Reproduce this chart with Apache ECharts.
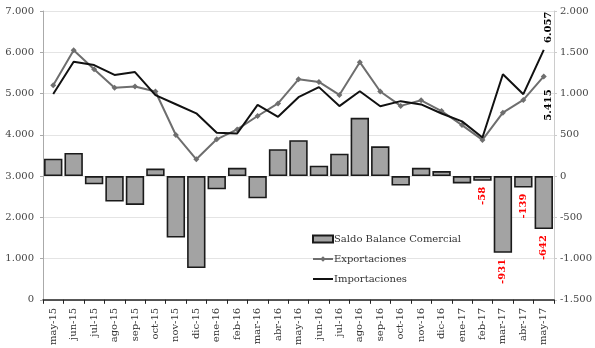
<!DOCTYPE html>
<html>
<head>
<meta charset="utf-8">
<script src="https://cdn.jsdelivr.net/npm/echarts@6/dist/echarts.min.js"></script>
<style>
  html, body { margin: 0; padding: 0; background: #fff; }
  #chart { width: 595px; height: 348px; }
</style>
</head>
<body>
<div id="chart"></div>
<script>
// Monthly trade figures (millions), May 2015 – May 2017
const months = ['may-15','jun-15','jul-15','ago-15','sep-15','oct-15','nov-15','dic-15',
  'ene-16','feb-16','mar-16','abr-16','may-16','jun-16','jul-16','ago-16','sep-16','oct-16',
  'nov-16','dic-16','ene-17','feb-17','mar-17','abr-17','may-17'];

const exportaciones = [5200, 6050, 5590, 5140, 5170, 5050, 3995, 3405, 3890, 4130, 4455, 4760,
  5345, 5280, 4965, 5760, 5050, 4700, 4835, 4575, 4235, 3875, 4535, 4845, 5415];

const importaciones = [4990, 5770, 5690, 5450, 5520, 4960, 4740, 4520, 4050, 4030, 4725, 4435,
  4910, 5155, 4695, 5055, 4690, 4815, 4735, 4515, 4325, 3933, 5466, 4984, 6057];

const saldo = [210, 280, -100, -310, -350, 90, -745, -1115, -160, 100, -270, 325,
  435, 125, 270, 705, 360, -115, 100, 60, -90, -58, -931, -139, -642];

// Months whose trade balance carries a red value label
const saldoLabelled = ['feb-17', 'mar-17', 'abr-17', 'may-17'];

const leftTicks = { min: 0, max: 7000, step: 1000 };
const rightTicks = { min: -1500, max: 2000, step: 500 };

const FONT = 'DejaVu Serif';

function fmt(v) {
  const s = Math.abs(Math.round(v)).toString().replace(/\B(?=(\d{3})+(?!\d))/g, '.');
  return (v < 0 ? '-' : '') + s;
}

const last = months.length - 1;

// Vertical value labels read bottom-to-top; their offset is given in the
// rotated frame, so [0, 5] nudges them 5px to the right on screen.
const saldoData = saldo.map((v, i) => {
  if (saldoLabelled.indexOf(months[i]) < 0) return v;
  return {
    value: v,
    label: {
      show: true, position: 'outside', distance: 6, rotate: 90,
      align: 'right', verticalAlign: 'middle',
      color: '#ff0000', fontWeight: 'bold', fontSize: 10, fontFamily: FONT,
      formatter: p => fmt(p.value)
    }
  };
});

const expData = exportaciones.map((v, i) => i !== last ? v : {
  value: v,
  label: {
    show: true, position: 'bottom', distance: 10, rotate: 90,
    align: 'right', verticalAlign: 'middle', offset: [0, 5],
    color: '#000', fontWeight: 'bold', fontSize: 10, fontFamily: FONT,
    formatter: p => fmt(p.value)
  }
});

const chart = echarts.init(document.getElementById('chart'), null, { renderer: 'canvas' });

chart.setOption({
  animation: false,
  backgroundColor: '#fff',
  textStyle: { fontFamily: FONT },
  grid: { left: 43, right: 38, top: 11, bottom: 48, containLabel: false },
  legend: {
    orient: 'vertical', left: 307, top: 229,
    itemWidth: 20, itemHeight: 7, itemGap: 10,
    textStyle: { fontFamily: FONT, fontSize: 10, color: '#333', padding: [0, 0, 0, -4] },
    data: [
      { name: 'Saldo Balance Comercial', icon: 'rect' },
      'Exportaciones',
      // plain line key (the extra move-to points keep the full 20x7 box)
      { name: 'Importaciones', icon: 'path://M0,0M20,7M0,2.5L20,2.5L20,4.5L0,4.5Z' }
    ]
  },
  xAxis: {
    type: 'category', data: months, boundaryGap: true,
    axisLine: { show: true, lineStyle: { color: '#222', width: 1.5 } },
    axisTick: { show: true, length: 4, lineStyle: { color: '#222' } },
    axisLabel: { rotate: 90, margin: 8, fontSize: 10, fontFamily: FONT, color: '#333', interval: 0 }
  },
  yAxis: [
    {
      type: 'value', min: leftTicks.min, max: leftTicks.max, interval: leftTicks.step,
      axisLine: { show: true, lineStyle: { color: '#aaa' } },
      axisTick: { show: true, length: 3, lineStyle: { color: '#aaa' } },
      splitLine: { show: true, lineStyle: { color: '#e4e4e4', width: 1 } },
      axisLabel: { fontSize: 10, fontFamily: FONT, color: '#444', margin: 9, formatter: fmt }
    },
    {
      type: 'value', min: rightTicks.min, max: rightTicks.max, interval: rightTicks.step,
      position: 'right',
      axisLine: { show: true, lineStyle: { color: '#ccc' } },
      axisTick: { show: true, length: 3, lineStyle: { color: '#ccc' } },
      splitLine: { show: false },
      axisLabel: { fontSize: 10, fontFamily: FONT, color: '#444', margin: 6, formatter: fmt }
    }
  ],
  series: [
    {
      name: 'Saldo Balance Comercial', type: 'bar', yAxisIndex: 1,
      data: saldoData, barCategoryGap: '10%',
      itemStyle: { color: '#a3a3a3', borderColor: '#1a1a1a', borderWidth: 1.6 },
      z: 1
    },
    {
      name: 'Exportaciones', type: 'line', yAxisIndex: 0,
      data: expData, symbol: 'diamond', symbolSize: 6, showSymbol: true,
      lineStyle: { color: '#6e6e6e', width: 2 },
      itemStyle: { color: '#6e6e6e' },
      z: 3
    },
    {
      name: 'Importaciones', type: 'line', yAxisIndex: 0,
      data: importaciones, symbol: 'none',
      lineStyle: { color: '#111', width: 2 },
      itemStyle: { color: '#111' },
      z: 4,
      // value label on the latest month
      markPoint: {
        symbol: 'circle', symbolSize: 0, silent: true,
        data: [{ coord: [months[last], importaciones[last]], value: importaciones[last] }],
        label: {
          show: true, position: 'top', distance: 7, rotate: 90,
          align: 'left', verticalAlign: 'middle', offset: [0, 5],
          color: '#000', fontWeight: 'bold', fontSize: 10, fontFamily: FONT,
          formatter: p => fmt(p.value)
        }
      }
    }
  ]
});
</script>
</body>
</html>
